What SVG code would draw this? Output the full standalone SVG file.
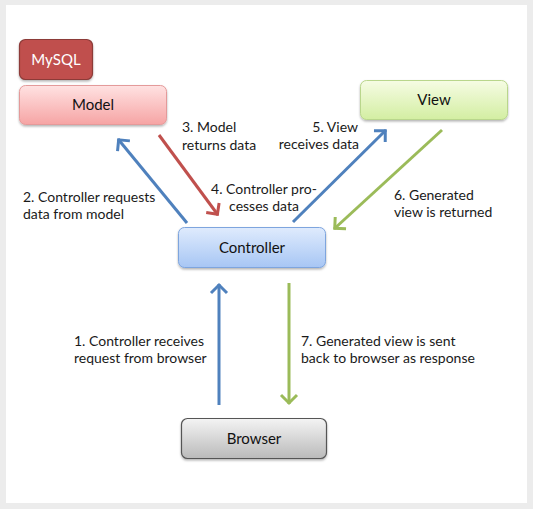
<svg xmlns="http://www.w3.org/2000/svg" width="533" height="509" viewBox="0 0 533 509">
<defs>
<style>
.lbl{font-family:"Lato","Liberation Sans",sans-serif;font-size:14px;fill:#1a1a1a}
.node{font-family:"Lato","Liberation Sans",sans-serif;font-size:15px;fill:#111;text-anchor:middle}
.conn{fill:none;stroke-width:3}
.blue{stroke:#4f81bd}
.red{stroke:#c0504d}
.green{stroke:#9bbb59}
</style>
<linearGradient id="gModel" x1="0" y1="0" x2="0" y2="1"><stop offset="0" stop-color="#ffe2e2"/><stop offset="1" stop-color="#f6a4a4"/></linearGradient>
<linearGradient id="gCtrl" x1="0" y1="0" x2="0" y2="1"><stop offset="0" stop-color="#dfebfd"/><stop offset="1" stop-color="#a7c6f4"/></linearGradient>
<linearGradient id="gView" x1="0" y1="0" x2="0" y2="1"><stop offset="0" stop-color="#f6fce4"/><stop offset="1" stop-color="#d3eea2"/></linearGradient>
<linearGradient id="gBrow" x1="0" y1="0" x2="0" y2="1"><stop offset="0" stop-color="#f4f4f4"/><stop offset="1" stop-color="#bababa"/></linearGradient>
<filter id="sh" x="-10%" y="-20%" width="120%" height="150%"><feDropShadow dx="0" dy="1.5" stdDeviation="1.2" flood-color="#000" flood-opacity="0.3"/></filter>
<marker id="mBlue" markerUnits="userSpaceOnUse" markerWidth="24" markerHeight="24" viewBox="-12 -12 24 24" refX="1" refY="0" orient="auto"><path d="M-8,-8 L0,0 L-8,8" fill="none" stroke="#4f81bd" stroke-width="3"/></marker>
<marker id="mRed" markerUnits="userSpaceOnUse" markerWidth="24" markerHeight="24" viewBox="-12 -12 24 24" refX="1" refY="0" orient="auto"><path d="M-8,-8 L0,0 L-8,8" fill="none" stroke="#c0504d" stroke-width="3"/></marker>
<marker id="mGreen" markerUnits="userSpaceOnUse" markerWidth="24" markerHeight="24" viewBox="-12 -12 24 24" refX="1" refY="0" orient="auto"><path d="M-8,-8 L0,0 L-8,8" fill="none" stroke="#9bbb59" stroke-width="3"/></marker>
</defs>
<rect x="0" y="0" width="533" height="509" fill="#ececec"/>
<rect x="6" y="5" width="521" height="498" fill="#ffffff"/>

<g id="mysql">
<rect x="19.5" y="39.5" width="73" height="40" rx="6" fill="#c0504d" stroke="#8c3a37" stroke-width="1.2" filter="url(#sh)"/>
<text x="56" y="65" class="node" style="fill:#ffffff">MySQL</text>
</g>
<g id="model">
<rect x="19.5" y="85.5" width="147" height="39" rx="6" fill="url(#gModel)" stroke="#e49a9a" stroke-width="1" filter="url(#sh)"/>
<text x="93" y="110" class="node">Model</text>
</g>
<g id="view">
<rect x="360.5" y="80.5" width="147" height="39" rx="6" fill="url(#gView)" stroke="#b9d68c" stroke-width="1" filter="url(#sh)"/>
<text x="434" y="105" class="node">View</text>
</g>
<g id="controller">
<rect x="178.5" y="227.5" width="147" height="40" rx="6" fill="url(#gCtrl)" stroke="#7ea5de" stroke-width="1" filter="url(#sh)"/>
<text x="252" y="253" class="node">Controller</text>
</g>
<g id="browser">
<rect x="181.5" y="418.5" width="145" height="40" rx="6" fill="url(#gBrow)" stroke="#555555" stroke-width="1.2" filter="url(#sh)"/>
<text x="254" y="444" class="node">Browser</text>
</g>

<g id="connectors">
<line class="conn blue" x1="219" y1="405" x2="219" y2="284" marker-end="url(#mBlue)"/>
<line class="conn blue" x1="187" y1="223" x2="118" y2="139" marker-end="url(#mBlue)"/>
<line class="conn red" x1="159" y1="135" x2="218" y2="215" marker-end="url(#mRed)"/>
<line class="conn blue" x1="293" y1="222" x2="386" y2="130" marker-end="url(#mBlue)"/>
<line class="conn green" x1="442" y1="130" x2="334" y2="229" marker-end="url(#mGreen)"/>
<line class="conn green" x1="289" y1="283" x2="289" y2="404" marker-end="url(#mGreen)"/>
</g>

<g id="labels">
<text class="lbl" x="23" y="202">2. Controller requests</text>
<text class="lbl" x="23" y="219">data from model</text>
<text class="lbl" x="182" y="132">3. Model</text>
<text class="lbl" x="182" y="150">returns data</text>
<text class="lbl" x="264" y="194" text-anchor="middle">4. Controller pro-</text>
<text class="lbl" x="264" y="211" text-anchor="middle">cesses data</text>
<text class="lbl" x="358" y="132" text-anchor="end">5. View</text>
<text class="lbl" x="359" y="149" text-anchor="end">receives data</text>
<text class="lbl" x="394" y="200">6. Generated</text>
<text class="lbl" x="394" y="217">view is returned</text>
<text class="lbl" x="74" y="346">1. Controller receives</text>
<text class="lbl" x="74" y="363">request from browser</text>
<text class="lbl" x="301" y="346">7. Generated view is sent</text>
<text class="lbl" x="301" y="363">back to browser as response</text>
</g>
</svg>
